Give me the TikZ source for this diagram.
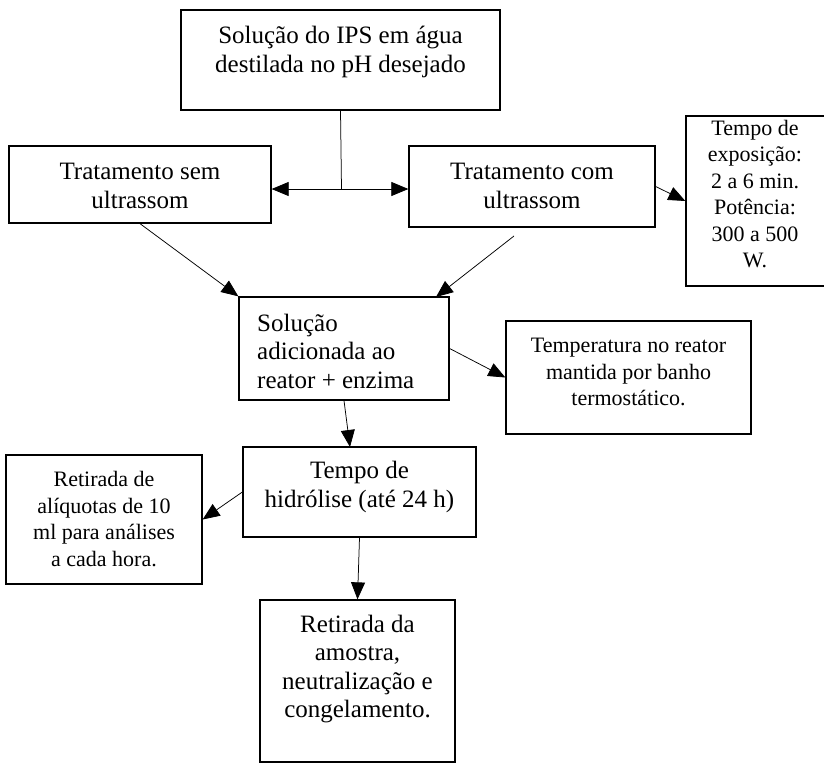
\documentclass[tikz,border=0pt]{standalone}
\usepackage{fontspec}
\setmainfont{Liberation Serif}
\usetikzlibrary{arrows.meta}
\begin{document}
\begin{tikzpicture}[x=1pt,y=-1pt,
  box/.style={draw, line width=1.3pt, inner sep=0pt},
  big/.style={font=\fontsize{25}{28.5}\selectfont, align=center, inner sep=0pt},
  small/.style={font=\fontsize{22}{26.5}\selectfont, align=center, inner sep=0pt},
  arr/.style={line width=0.75pt, -{Triangle[length=17pt,width=14pt]}},
  ln/.style={line width=0.75pt}]
\useasboundingbox (0,0) rectangle (824,764);
% boxes
\node[box, minimum width=319pt, minimum height=100pt] (top)  at (340.5,60)   {};
\node[box, minimum width=262pt, minimum height=77pt]  (sem)  at (140,184.5)  {};
\node[box, minimum width=246pt, minimum height=81pt]  (com)  at (532,186.5)  {};
\node[box, minimum width=140pt, minimum height=170pt] (expo) at (756,201)    {};
\node[box, minimum width=210pt, minimum height=103pt] (sol)  at (344,348.5)  {};
\node[box, minimum width=245pt, minimum height=113pt] (temp) at (628.5,377.5){};
\node[box, minimum width=233pt, minimum height=90pt]  (hid)  at (359.5,492)  {};
\node[box, minimum width=196pt, minimum height=129pt] (ali)  at (104,519.5)  {};
\node[box, minimum width=195pt, minimum height=162pt] (fin)  at (357.5,681)  {};
% texts
\node[big] (topt) at (340.5,52) {Solução do IPS em água\\destilada no pH desejado};
\node[big] (semt) at (140,186) {Tratamento sem\\ultrassom};
\node[big] (comt) at (532,186) {Tratamento com\\ultrassom};
\node[small] (expot) at (755,194) {Tempo de\\exposição:\\2 a 6 min.\\Potência:\\300 a 500\\W.};
\node[big, align=left, anchor=west] (solt) at (257,351) {Solução\\adicionada ao\\reator + enzima};
\node[small] (tempt) at (628.5,372) {Temperatura no reator\\mantida por banho\\termostático.};
\node[big] (hidt) at (359.5,487) {Tempo de\\hidrólise (até 24 h)};
\node[small] (alit) at (104,519) {Retirada de\\alíquotas de 10\\ml para análises\\a cada hora.};
\node[big] (fint) at (357.5,669) {Retirada da\\amostra,\\neutralização e\\congelamento.};
% connectors
\coordinate (j) at (341.5,189);
\draw[ln] (top.south) -- (j);
\draw[arr] (j) -- (j -| sem.east);
\draw[arr] (j) -- (j -| com.west);
\draw[arr] (sem.south) -- (sol.north west);
\coordinate (cs) at (514,236);
\coordinate (ce) at (436,297);
\draw[arr] (cs) -- (ce);
\draw[arr] (com.east) -- (expo.west);
\draw[arr] (sol.east) -- (temp.west);
\coordinate (he) at (350,447);
\draw[arr] (sol.south) -- (he);
\draw[arr] (hid.west) -- (ali.east);
\draw[arr] (hid.south) -- (fin.north);
\end{tikzpicture}
\end{document}
